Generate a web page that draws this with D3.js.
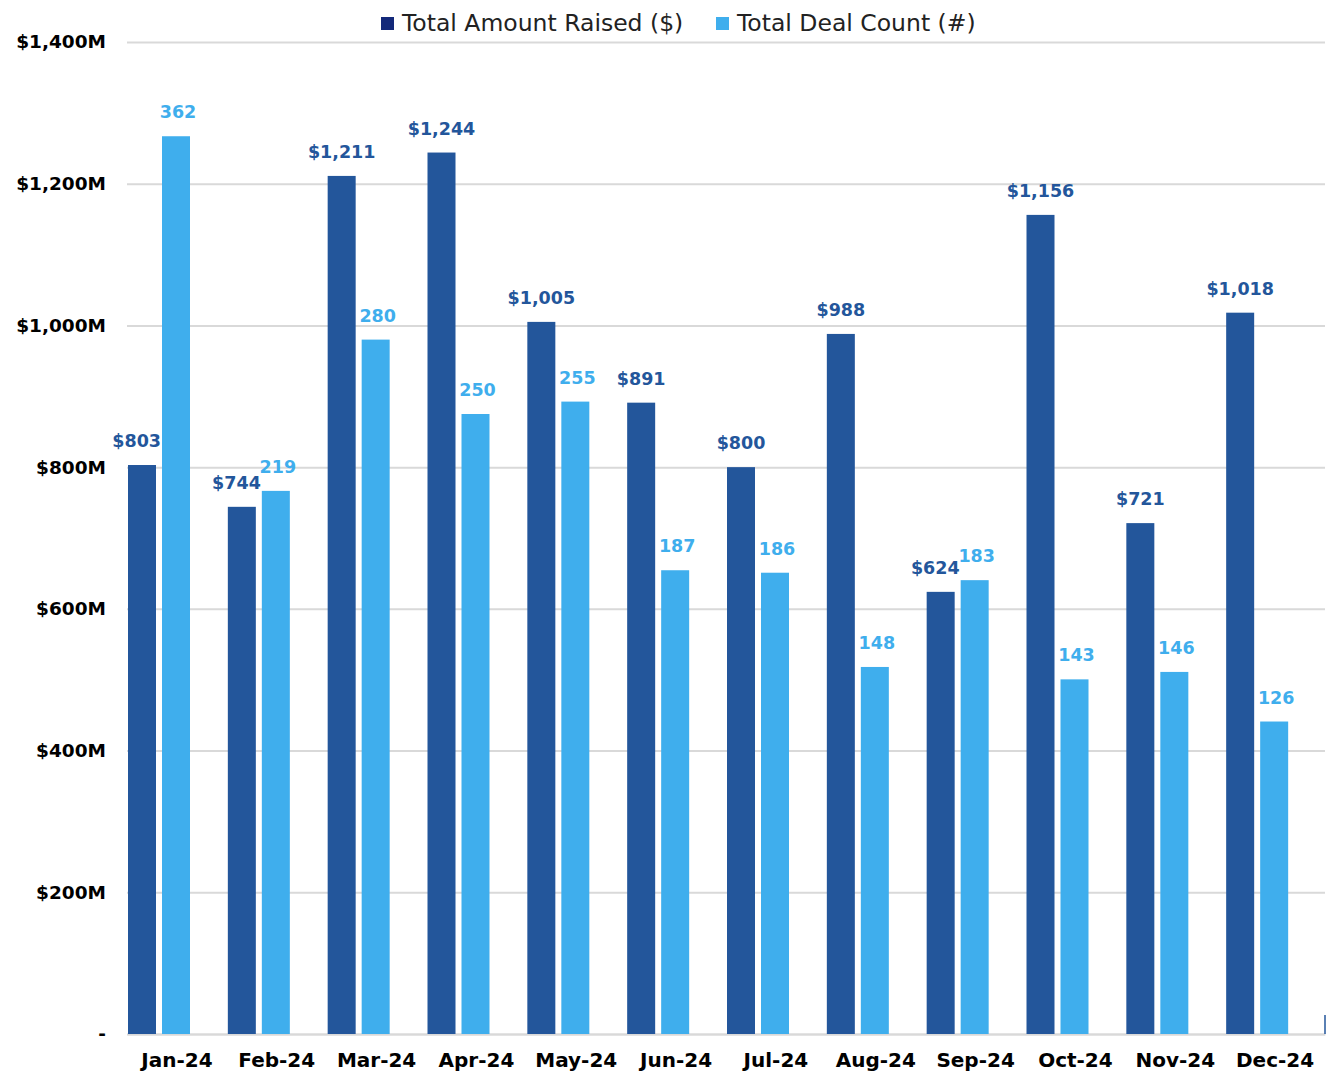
<!DOCTYPE html>
<html><head><meta charset="utf-8">
<script src="https://cdn.jsdelivr.net/npm/d3@7"></script>
<style>
body{margin:0;background:#fff;}
text{font-family:"DejaVu Sans",sans-serif;}
</style></head>
<body><svg id="c" width="1332" height="1081"></svg>
<script>
const months = ["Jan-24","Feb-24","Mar-24","Apr-24","May-24","Jun-24","Jul-24","Aug-24","Sep-24","Oct-24","Nov-24","Dec-24"];
const amountRaised = [803,744,1211,1244,1005,891,800,988,624,1156,721,1018];
const dealCount = [362,219,280,250,255,187,186,148,183,143,146,126];
const yTicks = [0,200,400,600,800,1000,1200,1400];
const seriesNames = ["Total Amount Raised ($)","Total Deal Count (#)"];

const darkC = "#23569b", lightC = "#3faeed", legendDark = "#13297a";
const svg = d3.select("#c");
const L = 127, R = 1325, T = 42, B = 1034;

const x0 = d3.scaleBand().domain(months).range([L, R]);
const x1 = d3.scaleBand().domain(["amount","count","spare"]).range([1, 97]).paddingInner(6/34).paddingOuter(0);
const y = d3.scaleLinear().domain([0,1400]).range([B, T]);
const y2 = d3.scaleLinear().domain([0,400]).range([B, T]);

// grid
const yAxis = d3.axisLeft(y).tickValues(yTicks).tickSize(-(R-L)).tickPadding(20)
  .tickFormat(d => d === 0 ? "-" : "$" + d3.format(",")(d) + "M");
const ga = svg.append("g").attr("transform", `translate(${L},0)`).call(yAxis);
ga.select(".domain").remove();
ga.selectAll(".tick line").attr("stroke", "#d9d9d9").attr("stroke-width", 2);
ga.selectAll(".tick text").attr("font-size", 18.5).attr("font-weight", "bold").attr("fill", "#000")
  .attr("x", -21);

// x axis
const xAxis = d3.axisBottom(x0).tickSize(0).tickPadding(19);
const gx = svg.append("g").attr("transform", `translate(0,${B})`).call(xAxis);
gx.select(".domain").attr("stroke", "#d9d9d9").attr("stroke-width", 2);
gx.selectAll(".tick text").attr("font-size", 20).attr("font-weight", "bold").attr("fill", "#000");

// secondary axis stub
svg.append("line").attr("x1", R).attr("x2", R).attr("y1", B - 19).attr("y2", B)
  .attr("stroke", darkC).attr("stroke-width", 1.5);

const rows = months.map((m,i) => ({m, a: amountRaised[i], c: dealCount[i]}));

const g = svg.append("g");
g.selectAll(".bd").data(rows).join("rect")
  .attr("x", d => x0(d.m) + x1("amount")).attr("width", x1.bandwidth())
  .attr("y", d => y(d.a)).attr("height", d => B - y(d.a)).attr("fill", darkC);
g.selectAll(".bl").data(rows).join("rect")
  .attr("x", d => x0(d.m) + x1("count")).attr("width", x1.bandwidth())
  .attr("y", d => y2(d.c)).attr("height", d => B - y2(d.c)).attr("fill", lightC);

// labels
g.selectAll(".ld").data(rows).join("text")
  .attr("font-size", 17.5).attr("font-weight", "bold").attr("fill", darkC)
  .attr("y", d => y(d.a) - 18)
  .each(function(d){
    const cx = x0(d.m) + x1("amount") + x1.bandwidth()/2;
    const lightTop = y2(d.c);
    const sel = d3.select(this);
    if (lightTop < y(d.a) - 5) {
      sel.attr("text-anchor", "end").attr("x", x0(d.m) + x1("count") - 1);
    } else {
      sel.attr("text-anchor", "middle").attr("x", cx);
    }
  })
  .text(d => "$" + d3.format(",")(d.a));
g.selectAll(".ll").data(rows).join("text")
  .attr("font-size", 17.5).attr("font-weight", "bold").attr("fill", lightC)
  .attr("text-anchor", "middle")
  .attr("x", d => x0(d.m) + x1("count") + x1.bandwidth()/2 + 2)
  .attr("y", d => y2(d.c) - 18)
  .text(d => d.c);

// legend
const lg = svg.append("g");
const items = [{n: seriesNames[0], c: legendDark, x: 381}, {n: seriesNames[1], c: lightC, x: 716}];
items.forEach(it => {
  lg.append("rect").attr("x", it.x).attr("y", 17).attr("width", 13).attr("height", 13).attr("fill", it.c);
  lg.append("text").attr("x", it.x + 21).attr("y", 31).attr("font-size", 23.5).attr("fill", "#222").text(it.n);
});
</script></body></html>
